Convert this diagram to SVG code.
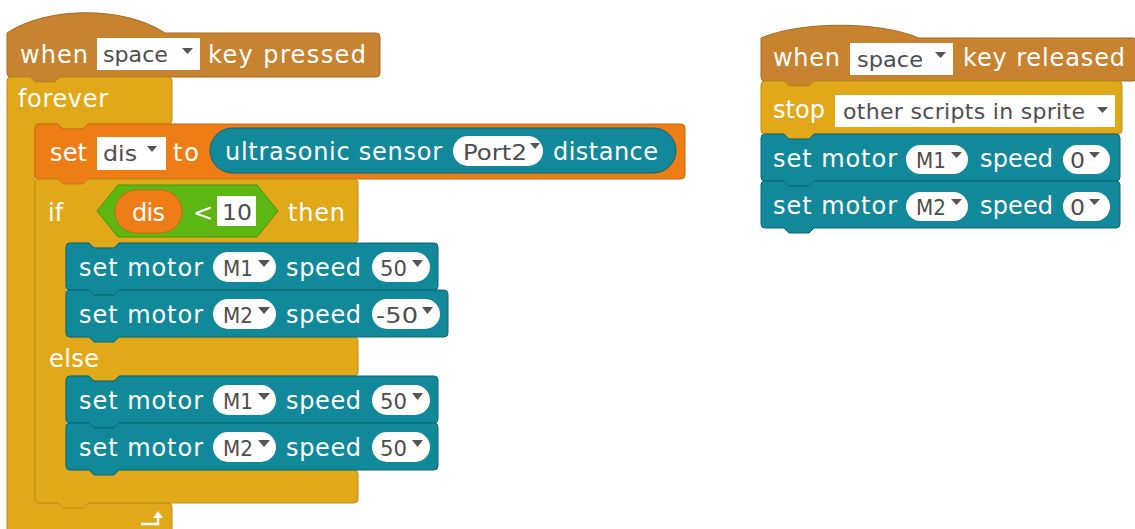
<svg xmlns="http://www.w3.org/2000/svg" width="1135" height="529" viewBox="0 0 1135 529">
<style>
.lbl{font-family:"DejaVu Sans",Verdana,sans-serif;font-size:24px;fill:#fff}
.fld{font-family:"DejaVu Sans",Verdana,sans-serif;font-size:22px;fill:#4d4d4d}
.ev{fill:#c88330;stroke:#a66a24;stroke-width:1}
.ctl{fill:#e1a91a;stroke:#bd8c12;stroke-width:1}
.var{fill:#ee7d16;stroke:#c9660e;stroke-width:1}
.op{fill:#5cb712;stroke:#46920c;stroke-width:1}
.rob{fill:#12899a;stroke:#0b6773;stroke-width:1}
.wht{fill:#fff}
.tri{fill:#555}
</style>
<rect width="1135" height="529" fill="#fff"/>

<!-- LEFT SCRIPT -->
<g id="hat-pressed">
<path class="ev" transform="translate(7,33)" d="M0,0 c40,-27 118,-27 158,0 H369 q4,0 4,4 V40 q0,4 -4,4 H53 l-5,5 h-20 l-5,-5 H4 q-4,0 -4,-4 z"/>
<text class="lbl" x="20" y="63" textLength="68">when</text>
<rect class="wht" x="97" y="38" width="103" height="32"/>
<text class="fld" x="103" y="62" textLength="65" lengthAdjust="spacingAndGlyphs">space</text>
<polygon class="tri" points="182,48 193,48 187.5,54"/>
<text class="lbl" x="208" y="63" textLength="158">key pressed</text>
</g>

<g id="forever">
<path class="ctl" transform="translate(7,77)" d="M0,4 q0,-4 4,-4 h19 l5,5 h20 l5,-5 H161 q4,0 4,4 V43 q0,4 -4,4 H81 l-5,5 h-20 l-5,-5 H32 q-4,0 -4,4 V422 q0,4 4,4 H161 q4,0 4,4 V462 q0,4 -4,4 H4 q-4,0 -4,-4 z"/>
<text class="lbl" x="18" y="107" textLength="90">forever</text>
<path d="M141,524 H158 V517" fill="none" stroke="#fff" stroke-width="2.5"/>
<polygon class="wht" points="153,518 163,518 158,511"/>
</g>

<g id="set-dis">
<path class="var" transform="translate(35,124)" d="M0,4 q0,-4 4,-4 h19 l5,5 h20 l5,-5 h593 q4,0 4,4 v47 q0,4 -4,4 h-593 l-5,5 h-20 l-5,-5 h-19 q-4,0 -4,-4 z"/>
<text class="lbl" x="50" y="161" textLength="37">set</text>
<rect class="wht" x="97" y="137" width="69" height="33"/>
<text class="fld" x="103" y="161" textLength="34" lengthAdjust="spacingAndGlyphs">dis</text>
<polygon class="tri" points="147,146 157,146 152,152"/>
<text class="lbl" x="173" y="161" textLength="26">to</text>
<g id="ultrasonic">
<rect class="rob" x="210" y="128" width="466" height="45" rx="22.5"/>
<text class="lbl" x="225" y="160" textLength="217">ultrasonic sensor</text>
<rect class="wht" x="453" y="136" width="90" height="30" rx="15"/>
<text class="fld" x="463" y="160" textLength="64" lengthAdjust="spacingAndGlyphs">Port2</text>
<polygon class="tri" points="530,143 540,143 535,149"/>
<text class="lbl" x="553" y="160" textLength="105">distance</text>
</g>
</g>

<g id="if-else">
<path class="ctl" transform="translate(35,179)" d="M0,4 q0,-4 4,-4 h19 l5,5 h20 l5,-5 H319 q4,0 4,4 V60 q0,4 -4,4 H84 l-5,5 h-20 l-5,-5 H35 q-4,0 -4,4 V154 q0,4 4,4 H319 q4,0 4,4 V193 q0,4 -4,4 H84 l-5,5 h-20 l-5,-5 H35 q-4,0 -4,4 V287 q0,4 4,4 H319 q4,0 4,4 V320 q0,4 -4,4 H53 l-5,5 h-20 l-5,-5 H4 q-4,0 -4,-4 z"/>
<text class="lbl" x="48" y="221">if</text>
<g id="less-than">
<polygon class="op" points="97,211 118,185 257,185 278,211 257,237 118,237"/>
<rect class="var" x="115" y="190" width="67" height="43" rx="21.5"/>
<text class="lbl" x="132" y="221" textLength="33">dis</text>
<text class="lbl" x="193" y="221" textLength="14">&lt;</text>
<rect class="wht" x="217" y="196" width="39" height="30"/>
<text class="fld" x="222" y="220" textLength="30" lengthAdjust="spacingAndGlyphs" fill="#333">10</text>
</g>
<text class="lbl" x="288" y="221" textLength="57">then</text>
<text class="lbl" x="49" y="367" textLength="50">else</text>
</g>

<g id="motor-if-1">
<path class="rob" transform="translate(66,243)" d="M0,4 q0,-4 4,-4 h19 l5,5 h20 l5,-5 h315 q4,0 4,4 v39 q0,4 -4,4 h-315 l-5,5 h-20 l-5,-5 h-19 q-4,0 -4,-4 z"/>
<text class="lbl" x="79" y="276" textLength="124">set motor</text>
<rect class="wht" x="213" y="252" width="63" height="30" rx="15"/>
<text class="fld" x="223" y="276" textLength="30" lengthAdjust="spacingAndGlyphs">M1</text>
<polygon class="tri" points="258,260 270,260 264,267"/>
<text class="lbl" x="286" y="276" textLength="75">speed</text>
<rect class="wht" x="372" y="252" width="58" height="30" rx="15"/>
<text class="fld" x="380" y="276" textLength="27" lengthAdjust="spacingAndGlyphs">50</text>
<polygon class="tri" points="412,260 423,260 417.5,267"/>
</g>

<g id="motor-if-2">
<path class="rob" transform="translate(66,290)" d="M0,4 q0,-4 4,-4 h19 l5,5 h20 l5,-5 h325 q4,0 4,4 v39 q0,4 -4,4 h-325 l-5,5 h-20 l-5,-5 h-19 q-4,0 -4,-4 z"/>
<text class="lbl" x="79" y="323" textLength="124">set motor</text>
<rect class="wht" x="213" y="299" width="63" height="30" rx="15"/>
<text class="fld" x="223" y="323" textLength="30" lengthAdjust="spacingAndGlyphs">M2</text>
<polygon class="tri" points="258,307 270,307 264,314"/>
<text class="lbl" x="286" y="323" textLength="75">speed</text>
<rect class="wht" x="372" y="299" width="68" height="30" rx="15"/>
<text class="fld" x="376" y="323" textLength="42" lengthAdjust="spacingAndGlyphs">-50</text>
<polygon class="tri" points="422,307 433,307 427.5,314"/>
</g>

<g id="motor-else-1">
<path class="rob" transform="translate(66,376)" d="M0,4 q0,-4 4,-4 h19 l5,5 h20 l5,-5 h315 q4,0 4,4 v39 q0,4 -4,4 h-315 l-5,5 h-20 l-5,-5 h-19 q-4,0 -4,-4 z"/>
<text class="lbl" x="79" y="409" textLength="124">set motor</text>
<rect class="wht" x="213" y="385" width="63" height="30" rx="15"/>
<text class="fld" x="223" y="409" textLength="30" lengthAdjust="spacingAndGlyphs">M1</text>
<polygon class="tri" points="258,393 270,393 264,400"/>
<text class="lbl" x="286" y="409" textLength="75">speed</text>
<rect class="wht" x="372" y="385" width="58" height="30" rx="15"/>
<text class="fld" x="380" y="409" textLength="27" lengthAdjust="spacingAndGlyphs">50</text>
<polygon class="tri" points="412,393 423,393 417.5,400"/>
</g>

<g id="motor-else-2">
<path class="rob" transform="translate(66,423)" d="M0,4 q0,-4 4,-4 h19 l5,5 h20 l5,-5 h315 q4,0 4,4 v39 q0,4 -4,4 h-315 l-5,5 h-20 l-5,-5 h-19 q-4,0 -4,-4 z"/>
<text class="lbl" x="79" y="456" textLength="124">set motor</text>
<rect class="wht" x="213" y="432" width="63" height="30" rx="15"/>
<text class="fld" x="223" y="456" textLength="30" lengthAdjust="spacingAndGlyphs">M2</text>
<polygon class="tri" points="258,440 270,440 264,447"/>
<text class="lbl" x="286" y="456" textLength="75">speed</text>
<rect class="wht" x="372" y="432" width="58" height="30" rx="15"/>
<text class="fld" x="380" y="456" textLength="27" lengthAdjust="spacingAndGlyphs">50</text>
<polygon class="tri" points="412,440 423,440 417.5,447"/>
</g>

<!-- RIGHT SCRIPT -->
<g id="hat-released">
<path class="ev" transform="translate(761,38)" d="M0,0 c40,-17 118,-17 158,0 H372 q4,0 4,4 V39 q0,4 -4,4 H53 l-5,5 h-20 l-5,-5 H4 q-4,0 -4,-4 z"/>
<text class="lbl" x="773" y="66" textLength="67">when</text>
<rect class="wht" x="850" y="43" width="103" height="32"/>
<text class="fld" x="857" y="67" textLength="66" lengthAdjust="spacingAndGlyphs">space</text>
<polygon class="tri" points="935,52 946,52 940.5,58"/>
<text class="lbl" x="963" y="66" textLength="162">key released</text>
</g>

<g id="stop">
<path class="ctl" transform="translate(761,81)" d="M0,4 q0,-4 4,-4 h19 l5,5 h20 l5,-5 h304 q4,0 4,4 v45 q0,4 -4,4 h-304 l-5,5 h-20 l-5,-5 h-19 q-4,0 -4,-4 z"/>
<text class="lbl" x="773" y="118" textLength="52">stop</text>
<rect class="wht" x="835" y="95" width="280" height="32"/>
<text class="fld" x="843" y="119" textLength="242">other scripts in sprite</text>
<polygon class="tri" points="1097,107 1108,107 1102.5,113"/>
</g>

<g id="motor-stop-1">
<path class="rob" transform="translate(761,134)" d="M0,4 q0,-4 4,-4 h19 l5,5 h20 l5,-5 h302 q4,0 4,4 v39 q0,4 -4,4 h-302 l-5,5 h-20 l-5,-5 h-19 q-4,0 -4,-4 z"/>
<text class="lbl" x="773" y="167" textLength="124">set motor</text>
<rect class="wht" x="906" y="145" width="62" height="29" rx="14.5"/>
<text class="fld" x="916" y="168" textLength="30" lengthAdjust="spacingAndGlyphs">M1</text>
<polygon class="tri" points="951,152 962,152 956.5,158"/>
<text class="lbl" x="980" y="167" textLength="73">speed</text>
<rect class="wht" x="1063" y="145" width="47" height="29" rx="14.5"/>
<text class="fld" x="1070" y="168" textLength="15" lengthAdjust="spacingAndGlyphs">0</text>
<polygon class="tri" points="1089,152 1100,152 1094.5,158"/>
</g>

<g id="motor-stop-2">
<path class="rob" transform="translate(761,181)" d="M0,4 q0,-4 4,-4 h19 l5,5 h20 l5,-5 h302 q4,0 4,4 v39 q0,4 -4,4 h-302 l-5,5 h-20 l-5,-5 h-19 q-4,0 -4,-4 z"/>
<text class="lbl" x="773" y="214" textLength="124">set motor</text>
<rect class="wht" x="906" y="192" width="62" height="29" rx="14.5"/>
<text class="fld" x="916" y="215" textLength="30" lengthAdjust="spacingAndGlyphs">M2</text>
<polygon class="tri" points="951,199 962,199 956.5,205"/>
<text class="lbl" x="980" y="214" textLength="73">speed</text>
<rect class="wht" x="1063" y="192" width="47" height="29" rx="14.5"/>
<text class="fld" x="1070" y="215" textLength="15" lengthAdjust="spacingAndGlyphs">0</text>
<polygon class="tri" points="1089,199 1100,199 1094.5,205"/>
</g>
</svg>
